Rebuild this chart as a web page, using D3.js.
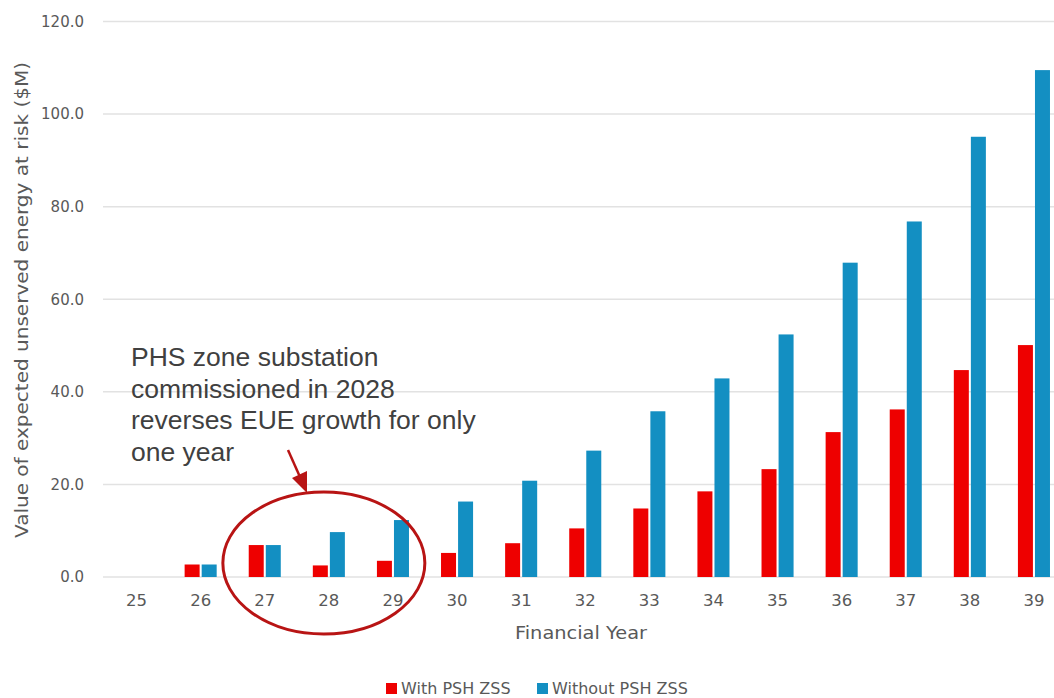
<!DOCTYPE html>
<html>
<head>
<meta charset="utf-8">
<script src="https://cdn.jsdelivr.net/npm/d3@7/dist/d3.min.js"></script>
<style>
    body { margin: 0; background: #fff; }
    text { font-family: "Century Gothic", "DejaVu Sans", sans-serif; fill: #595959; }
    .note { font-family: "Liberation Sans", Arial, sans-serif; fill: #404040; }
</style>
</head>
<body>
<svg id="chart" width="1054" height="698"></svg>
<script>
// data
const years = ['25', '26', '27', '28', '29', '30', '31', '32', '33', '34', '35', '36', '37', '38', '39'];
const withZss = [0, 2.7, 6.9, 2.5, 3.5, 5.2, 7.3, 10.5, 14.8, 18.5, 23.3, 31.3, 36.2, 44.7, 50.1];
const withoutZss = [0, 2.7, 6.9, 9.7, 12.3, 16.3, 20.8, 27.3, 35.8, 42.9, 52.4, 67.9, 76.8, 95.1, 109.5];
const seriesNames = ['With PSH ZSS', 'Without PSH ZSS'];
const seriesColors = ['#ee0000', '#138fc2'];
const yTicks = [0, 20, 40, 60, 80, 100, 120];
const noteLines = [
    'PHS zone substation',
    'commissioned in 2028',
    'reverses EUE growth for only',
    'one year'
];

const svg = d3.select('#chart');

const x = d3.scaleBand().domain(years).range([104.5, 1066]).padding(0);
const xInner = d3.scaleBand().domain(seriesNames).range([0, x.bandwidth()])
    .paddingInner(0.12).paddingOuter(0.94);
const y = d3.scaleLinear().domain([0, 120]).range([577, 21.5]);

// gridlines
svg.append('g')
    .selectAll('line')
    .data(yTicks)
    .join('line')
    .attr('x1', 103)
    .attr('x2', 1054)
    .attr('y1', d => y(d))
    .attr('y2', d => y(d))
    .attr('stroke', '#e2e2e2')
    .attr('stroke-width', 1.5);

// y axis labels
const yAxis = svg.append('g')
    .attr('transform', 'translate(103,0)')
    .call(d3.axisLeft(y).tickValues(yTicks).tickFormat(d3.format('.1f')).tickSize(0).tickPadding(19));
yAxis.select('.domain').remove();
yAxis.selectAll('text').style('font-size', '15px').attr('fill', '#595959')
    .style('font-family', '"Century Gothic", "DejaVu Sans", sans-serif');

// x axis labels
const xAxis = svg.append('g')
    .attr('transform', 'translate(0,577)')
    .call(d3.axisBottom(x).tickSize(0).tickPadding(17));
xAxis.select('.domain').remove();
xAxis.selectAll('text').style('font-size', '16.5px').attr('fill', '#595959')
    .style('font-family', '"Century Gothic", "DejaVu Sans", sans-serif');

// bars
const rows = years.map((yr, i) => ({ year: yr, values: [withZss[i], withoutZss[i]] }));
const groups = svg.append('g')
    .selectAll('g')
    .data(rows)
    .join('g')
    .attr('transform', d => 'translate(' + x(d.year) + ',0)');

groups.selectAll('rect')
    .data(d => d.values.map((v, j) => ({ name: seriesNames[j], value: v, color: seriesColors[j] })))
    .join('rect')
    .attr('x', d => xInner(d.name))
    .attr('width', xInner.bandwidth())
    .attr('y', d => y(d.value))
    .attr('height', d => y(0) - y(d.value))
    .attr('fill', d => d.color);

// axis titles
svg.append('text')
    .attr('x', 581)
    .attr('y', 639)
    .attr('text-anchor', 'middle')
    .attr('textLength', 132)
    .attr('lengthAdjust', 'spacingAndGlyphs')
    .style('font-size', '18px')
    .text('Financial Year');

svg.append('text')
    .attr('transform', 'translate(28,300) rotate(-90)')
    .attr('text-anchor', 'middle')
    .attr('textLength', 476)
    .attr('lengthAdjust', 'spacingAndGlyphs')
    .style('font-size', '18px')
    .text('Value of expected unserved energy at risk ($M)');

// legend
const legend = svg.append('g').attr('transform', 'translate(386,683)');
const legendX = [0, 151];
seriesNames.forEach((name, i) => {
    const item = legend.append('g').attr('transform', 'translate(' + legendX[i] + ',0)');
    item.append('rect').attr('width', 11).attr('height', 11).attr('fill', seriesColors[i]);
    item.append('text').attr('x', 15).attr('y', 11).style('font-size', '16px').text(name);
});

// annotation
const note = svg.append('text').attr('class', 'note').style('font-size', '26.5px');
noteLines.forEach((line, i) => {
    note.append('tspan').attr('x', 131).attr('y', 366 + i * 31.5).text(line);
});

const noteRed = '#b81414';
svg.append('line')
    .attr('x1', 288).attr('y1', 450)
    .attr('x2', 300).attr('y2', 477)
    .attr('stroke', noteRed)
    .attr('stroke-width', 2.5);
svg.append('path')
    .attr('d', 'M307,493 L292,478 L307,471 Z')
    .attr('fill', noteRed);

const cx28 = x('28') + x.bandwidth() / 2 - 5;
svg.append('ellipse')
    .attr('cx', cx28)
    .attr('cy', 563)
    .attr('rx', 101)
    .attr('ry', 71)
    .attr('fill', 'none')
    .attr('stroke', noteRed)
    .attr('stroke-width', 3);
</script>
</body>
</html>
